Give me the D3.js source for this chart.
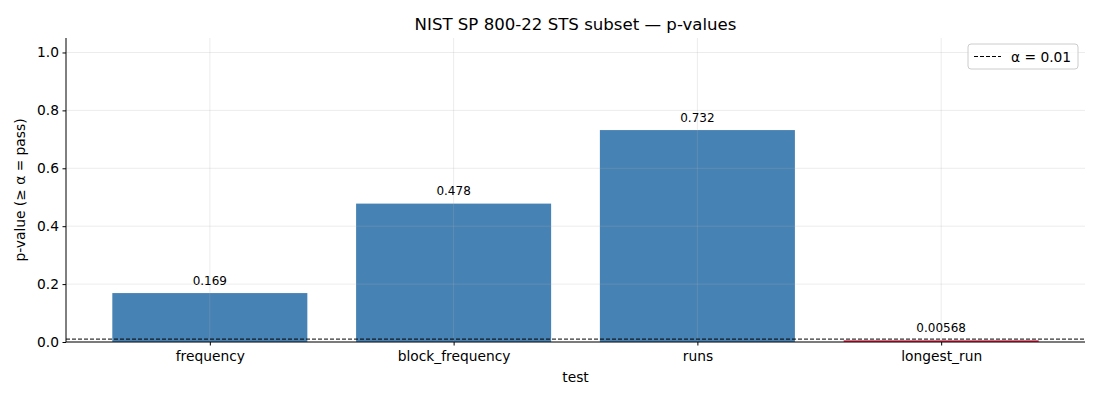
<!DOCTYPE html>
<html><head><meta charset="utf-8">
<script src="https://cdn.jsdelivr.net/npm/d3@7"></script>
<style>body{margin:0;background:#fff;font-family:"DejaVu Sans",sans-serif;}</style>
</head><body>
<svg id="c" width="1100" height="400"></svg>
<script>
const categories = ["frequency","block_frequency","runs","longest_run"];
const pvalues = [0.169, 0.478, 0.732, 0.00568];
const valueLabels = ["0.169","0.478","0.732","0.00568"];
const alpha = 0.01;
const yTicks = [0.0,0.2,0.4,0.6,0.8,1.0];

const svg = d3.select("#c");
const m = {l:66, r:1085, t:38, b:342};
const x = d3.scaleLinear().domain([-0.59, 3.59]).range([m.l, m.r]);
const y = d3.scaleLinear().domain([0, 1.05]).range([m.b, m.t]);
const bw = 0.8;

// bars
svg.append("g").selectAll("rect").data(pvalues).join("rect")
  .attr("x", (d,i)=>x(i-bw/2)).attr("width", (d,i)=>x(i+bw/2)-x(i-bw/2))
  .attr("y", d=>y(d)).attr("height", d=>y(0)-y(d))
  .attr("fill", d=> d>=alpha ? "#4682b4" : "#dc143c");

// grid (on top, translucent)
const g = svg.append("g").attr("stroke","#b0b0b0").attr("stroke-opacity",0.3).attr("stroke-width",0.8);
yTicks.forEach(t=>g.append("line").attr("x1",m.l).attr("x2",m.r).attr("y1",y(t)).attr("y2",y(t)));
categories.forEach((c,i)=>g.append("line").attr("x1",x(i)).attr("x2",x(i)).attr("y1",m.t).attr("y2",m.b));

// alpha line
svg.append("line").attr("x1",m.l).attr("x2",m.r).attr("y1",y(alpha)).attr("y2",y(alpha))
  .attr("stroke","#000").attr("stroke-width",1).attr("stroke-dasharray","4,2");

// value labels
svg.append("g").selectAll("text").data(pvalues).join("text")
  .attr("x",(d,i)=>x(i)).attr("y",d=>y(d)-8.5).attr("text-anchor","middle")
  .attr("font-size","12px").attr("fill","#000").text((d,i)=>valueLabels[i]);

// axes
const yAxis = d3.axisLeft(y).tickValues(yTicks).tickFormat(d3.format(".1f")).tickSize(3.5).tickPadding(3.5);
const ya = svg.append("g").attr("transform",`translate(${m.l},0)`).call(yAxis);
ya.select(".domain").attr("d",`M0,${m.b}V${m.t}`);
const xAxis = d3.axisBottom(x).tickValues([0,1,2,3]).tickFormat(i=>categories[i]).tickSize(3.5).tickPadding(6);
const xa = svg.append("g").attr("transform",`translate(0,${m.b})`).call(xAxis);
xa.select(".domain").attr("d",`M${m.l},0H${m.r}`);
[ya,xa].forEach(a=>{a.selectAll("text").attr("font-size","13.8px").attr("font-family","DejaVu Sans").attr("fill","#000");
  a.select(".domain").attr("stroke","#000").attr("stroke-width",1);
  a.selectAll(".tick line").attr("stroke","#000");});

// titles
svg.append("text").attr("x",(m.l+m.r)/2).attr("y",29.5).attr("text-anchor","middle")
  .attr("font-size","16.6px").text("NIST SP 800-22 STS subset — p-values");
svg.append("text").attr("x",(m.l+m.r)/2).attr("y",382).attr("text-anchor","middle")
  .attr("font-size","13.8px").text("test");
svg.append("text").attr("transform",`translate(25,${(m.t+m.b)/2}) rotate(-90)`).attr("text-anchor","middle")
  .attr("font-size","13.8px").text("p-value (≥ α = pass)");

// legend
const lg = svg.append("g").attr("transform","translate(968,44)");
lg.append("rect").attr("width",110).attr("height",25).attr("rx",3).attr("fill","#fff").attr("fill-opacity",0.8)
  .attr("stroke","#ccc").attr("stroke-width",1);
lg.append("line").attr("x1",6).attr("x2",33).attr("y1",12.5).attr("y2",12.5).attr("stroke","#000").attr("stroke-dasharray","4,2");
lg.append("text").attr("x",43).attr("y",17.5).attr("font-size","13.8px").text("α = 0.01");
</script>
</body></html>
